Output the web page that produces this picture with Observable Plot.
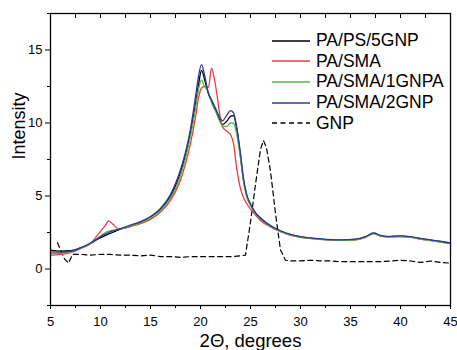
<!DOCTYPE html>
<html><head><meta charset="utf-8">
<script src="https://cdn.jsdelivr.net/npm/d3@7"></script>
<script src="https://cdn.jsdelivr.net/npm/@observablehq/plot@0.6"></script>
<style>
body{margin:0;background:#fff;}
#wrap{position:relative;width:457px;height:350px;font-family:"Liberation Sans",Arial,sans-serif;}
#legend{position:absolute;left:272px;top:30.4px;}
.row{display:flex;align-items:center;height:20.7px;}
.row svg{width:38px;height:4px;margin-right:6px;display:block;}
.row span{font-size:17.5px;color:#000;line-height:1;white-space:nowrap;}
</style></head><body><div id="wrap"></div>
<script>
const xs = [5, 5.5, 6, 7, 8, 9, 9.5, 10, 10.5, 10.8, 11.2, 11.8, 12.5, 13, 14, 15, 16, 17, 17.5, 18, 18.5, 19, 19.5, 19.8, 20.1, 20.4, 20.8, 21.1, 21.5, 22, 22.2, 22.6, 23, 23.3, 23.6, 24, 24.3, 24.6, 25, 25.5, 26, 27, 28, 29, 30, 32, 34, 35.5, 36.5, 37.3, 38, 38.7, 40, 41, 42, 43, 44, 45];
const paPs5gnp = [1.3, 1.25, 1.22, 1.25, 1.45, 1.75, 1.95, 2.15, 2.3, 2.4, 2.5, 2.68, 2.85, 2.95, 3.2, 3.55, 4.1, 5.0, 5.7, 6.6, 7.8, 9.3, 11.3, 12.6, 13.6, 13.0, 12.0, 11.5, 10.9, 10.1, 9.9, 10.1, 10.45, 10.5, 9.7, 7.7, 6.1, 5.1, 4.4, 3.85, 3.5, 2.95, 2.6, 2.35, 2.2, 2.05, 1.98, 2.02, 2.2, 2.45, 2.28, 2.22, 2.25, 2.2, 2.08, 1.98, 1.88, 1.77];
const paSma = [0.95, 0.97, 1.0, 1.12, 1.4, 1.72, 2.15, 2.58, 3.0, 3.3, 3.1, 2.75, 2.8, 2.9, 3.1, 3.4, 3.9, 4.7, 5.3, 6.1, 7.2, 8.6, 10.4, 11.7, 12.4, 12.5, 12.45, 13.75, 12.6, 10.3, 9.75, 9.45, 9.2, 8.6, 7.0, 5.5, 4.9, 4.5, 4.1, 3.7, 3.32, 2.88, 2.55, 2.3, 2.17, 2.03, 1.96, 2.0, 2.17, 2.42, 2.25, 2.2, 2.22, 2.17, 2.05, 1.95, 1.85, 1.74];
const paSma1gnpa = [1.05, 1.05, 1.08, 1.18, 1.42, 1.75, 2.0, 2.25, 2.5, 2.58, 2.65, 2.72, 2.85, 2.95, 3.15, 3.5, 4.0, 4.85, 5.5, 6.4, 7.6, 9.1, 11.0, 12.3, 12.95, 12.5, 12.1, 11.4, 10.8, 10.0, 9.8, 9.75, 10.0, 10.0, 9.3, 7.6, 6.0, 5.0, 4.35, 3.8, 3.42, 2.92, 2.58, 2.33, 2.18, 2.03, 1.96, 2.0, 2.17, 2.42, 2.25, 2.2, 2.22, 2.17, 2.05, 1.95, 1.85, 1.74];
const paSma2gnp = [1.18, 1.15, 1.15, 1.22, 1.45, 1.78, 2.0, 2.22, 2.4, 2.5, 2.6, 2.72, 2.88, 3.0, 3.25, 3.6, 4.15, 5.1, 5.85, 6.8, 8.0, 9.6, 11.8, 13.2, 14.0, 13.3, 12.0, 11.6, 11.0, 10.3, 10.15, 10.5, 10.85, 10.7, 9.8, 7.9, 6.2, 5.15, 4.45, 3.85, 3.48, 2.97, 2.62, 2.37, 2.22, 2.07, 2.0, 2.04, 2.22, 2.47, 2.3, 2.24, 2.27, 2.22, 2.1, 2.0, 1.9, 1.78];
const gnpX = [5.7, 6.0, 6.4, 6.8, 7.2, 8, 9, 10, 11, 12, 13, 14, 15, 16, 17, 18, 19, 20, 21, 22, 23, 24, 24.5, 25, 25.5, 26, 26.3, 26.6, 27, 27.5, 28, 28.5, 29, 30, 31, 32, 33, 34, 35, 36, 37, 38, 39, 40, 41, 42, 43, 44, 45];
const gnpY = [1.8, 1.3, 0.7, 0.4, 1.0, 1.0, 0.95, 1.0, 1.0, 0.95, 0.95, 0.9, 0.95, 0.85, 0.85, 0.8, 0.85, 0.85, 0.85, 0.85, 0.85, 0.9, 0.95, 3.2, 5.8, 8.2, 8.8, 8.3, 6.7, 3.8, 1.3, 0.6, 0.55, 0.55, 0.6, 0.55, 0.55, 0.5, 0.5, 0.5, 0.5, 0.5, 0.55, 0.6, 0.55, 0.45, 0.55, 0.45, 0.4];

const seriesNames = ["PA/PS/5GNP", "PA/SMA", "PA/SMA/1GNPA", "PA/SMA/2GNP"];
const seriesColors = ["#000000", "#f23a3a", "#55b845", "#2b3b9b"];
const seriesValues = [paPs5gnp, paSma, paSma1gnpa, paSma2gnp];
const gnpName = "GNP";
const xTicks = [5, 10, 15, 20, 25, 30, 35, 40, 45];
const xMinor = [7.5, 12.5, 17.5, 22.5, 27.5, 32.5, 37.5, 42.5];
const xTop = [7.5, 10, 12.5, 15, 17.5, 20, 22.5, 25, 27.5, 30, 32.5, 35, 37.5, 40, 42.5];
const yTicks = [0, 5, 10, 15];
const yMinor = [-2.5, 2.5, 7.5, 12.5, 17.5];

const rows = [];
seriesNames.forEach((name, i) => xs.forEach((x, j) => rows.push({series: name, x, y: seriesValues[i][j]})));
const gnp = gnpX.map((x, i) => ({x, y: gnpY[i]}));

const chart = Plot.plot({
  width: 457, height: 350,
  marginLeft: 50, marginRight: 7, marginTop: 13, marginBottom: 45,
  x: {domain: [5, 45]},
  y: {domain: [-2.5, 17.5]},
  color: {domain: seriesNames, range: seriesColors},
  style: {fontFamily: "Liberation Sans, Arial, sans-serif", fontSize: "13px", color: "#000", background: "white"},
  marks: [
    Plot.line(gnp, {x: "x", y: "y", stroke: "#000", strokeWidth: 1.2, strokeDasharray: "5,3.5"}),
    Plot.line(rows, {x: "x", y: "y", z: "series", stroke: "series", strokeWidth: 1.3, curve: "monotone-x"}),
    Plot.frame({stroke: "#000", strokeWidth: 1.3}),
    Plot.axisX({ticks: xTicks, tickSize: 4, tickPadding: 7, label: null}),
    Plot.axisX({ticks: xMinor, tickSize: 3, tickFormat: () => "", label: null}),
    Plot.tickX(xTop, {x: d => d, insetBottom: 287, stroke: "#000"}),
    Plot.axisY({ticks: yTicks, tickSize: 5, tickPadding: 3, label: null}),
    Plot.axisY({ticks: yMinor, tickSize: 3, tickFormat: () => "", label: null}),
    Plot.text(["2Θ, degrees"], {frameAnchor: "bottom", dy: 36, fontSize: 18.5, lineAnchor: "middle"}),
    Plot.text(["Intensity"], {frameAnchor: "left", dx: -31, rotate: -90, fontSize: 18, lineAnchor: "middle"})
  ]
});
const wrap = document.getElementById("wrap");
wrap.appendChild(chart);

const legend = document.createElement("div");
legend.id = "legend";
const items = seriesNames.map((n, i) => ({name: n, color: seriesColors[i], dash: null}));
items.push({name: gnpName, color: "#000", dash: "5,3.5"});
items.forEach(it => {
  const row = document.createElement("div");
  row.className = "row";
  row.innerHTML = `<svg viewBox="0 0 38 4"><line x1="0" x2="38" y1="2" y2="2" stroke="${it.color}" stroke-width="1.3" ${it.dash ? `stroke-dasharray="${it.dash}"` : ""}/></svg><span>${it.name}</span>`;
  legend.appendChild(row);
});
wrap.appendChild(legend);
</script>
</body></html>
